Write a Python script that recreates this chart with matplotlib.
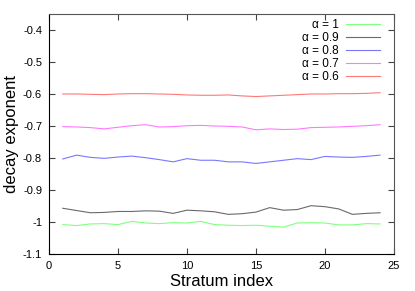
import numpy as np
import matplotlib
matplotlib.use('Agg')
from matplotlib import pyplot as plt

plt.rcParams['font.family'] = ['Liberation Sans', 'DejaVu Sans']
plt.rcParams['axes.unicode_minus'] = False

stratum = np.arange(1, 25)

a10 = [-1.008, -1.011, -1.006, -1.005, -1.008, -0.998, -1.003, -1.005, -1.002, -1.003, -0.998, -1.008,
       -1.010, -1.011, -1.010, -1.013, -1.016, -1.003, -1.002, -1.003, -1.009, -1.009, -1.005, -1.006]
a09 = [-0.957, -0.964, -0.971, -0.970, -0.967, -0.967, -0.965, -0.966, -0.973, -0.963, -0.965, -0.968,
       -0.976, -0.974, -0.969, -0.955, -0.963, -0.961, -0.949, -0.952, -0.959, -0.976, -0.973, -0.971]
a08 = [-0.803, -0.791, -0.798, -0.801, -0.797, -0.794, -0.799, -0.805, -0.812, -0.802, -0.807, -0.807,
       -0.812, -0.812, -0.817, -0.812, -0.807, -0.802, -0.805, -0.795, -0.797, -0.798, -0.795, -0.791]
a07 = [-0.702, -0.703, -0.705, -0.709, -0.704, -0.699, -0.696, -0.703, -0.702, -0.699, -0.698, -0.700,
       -0.701, -0.703, -0.712, -0.709, -0.711, -0.710, -0.705, -0.704, -0.703, -0.701, -0.699, -0.696]
a06 = [-0.600, -0.600, -0.601, -0.602, -0.600, -0.599, -0.599, -0.600, -0.601, -0.603, -0.604, -0.604,
       -0.603, -0.606, -0.608, -0.606, -0.604, -0.602, -0.600, -0.600, -0.599, -0.599, -0.598, -0.596]

labels = ['\u03b1 = 1', '\u03b1 = 0.9', '\u03b1 = 0.8', '\u03b1 = 0.7', '\u03b1 = 0.6']
colors = ['#80ff80', '#6a6a6a', '#7878ff', '#ff78ff', '#ff7878']
series = [a10, a09, a08, a07, a06]

fig = plt.figure(figsize=(4.15, 2.91), dpi=100)
ax = fig.add_axes([0.118, 0.127, 0.831, 0.825])

for vals, lab, c in zip(series, labels, colors):
    ax.plot(stratum, vals, color=c, lw=0.8, label=lab)

ax.set_xlim(0, 25)
ax.set_ylim(-1.1, -0.35)
ax.set_xticks([0, 5, 10, 15, 20, 25])
ax.set_yticks([-1.1, -1, -0.9, -0.8, -0.7, -0.6, -0.5, -0.4])
ax.set_yticklabels(['-1.1', '-1', '-0.9', '-0.8', '-0.7', '-0.6', '-0.5', '-0.4'])
ax.tick_params(direction='in', top=True, right=True, length=4, width=0.8,
               labelsize=8, pad=5, color='#444444')
ax.set_xlabel('Stratum index', fontsize=12, labelpad=2)
ax.set_ylabel('decay exponent', fontsize=12, labelpad=3)
for s in ['left', 'bottom']:
    ax.spines[s].set_color('black')
for s in ['top', 'right']:
    ax.spines[s].set_color('#555555')

ax.legend(loc='upper right', frameon=False, markerfirst=False, fontsize=8.5,
          handlelength=2.9, labelspacing=0.1, borderaxespad=0.2,
          bbox_to_anchor=(0.98, 1.01), handletextpad=0.6)

fig.savefig('out.png', dpi=100)
